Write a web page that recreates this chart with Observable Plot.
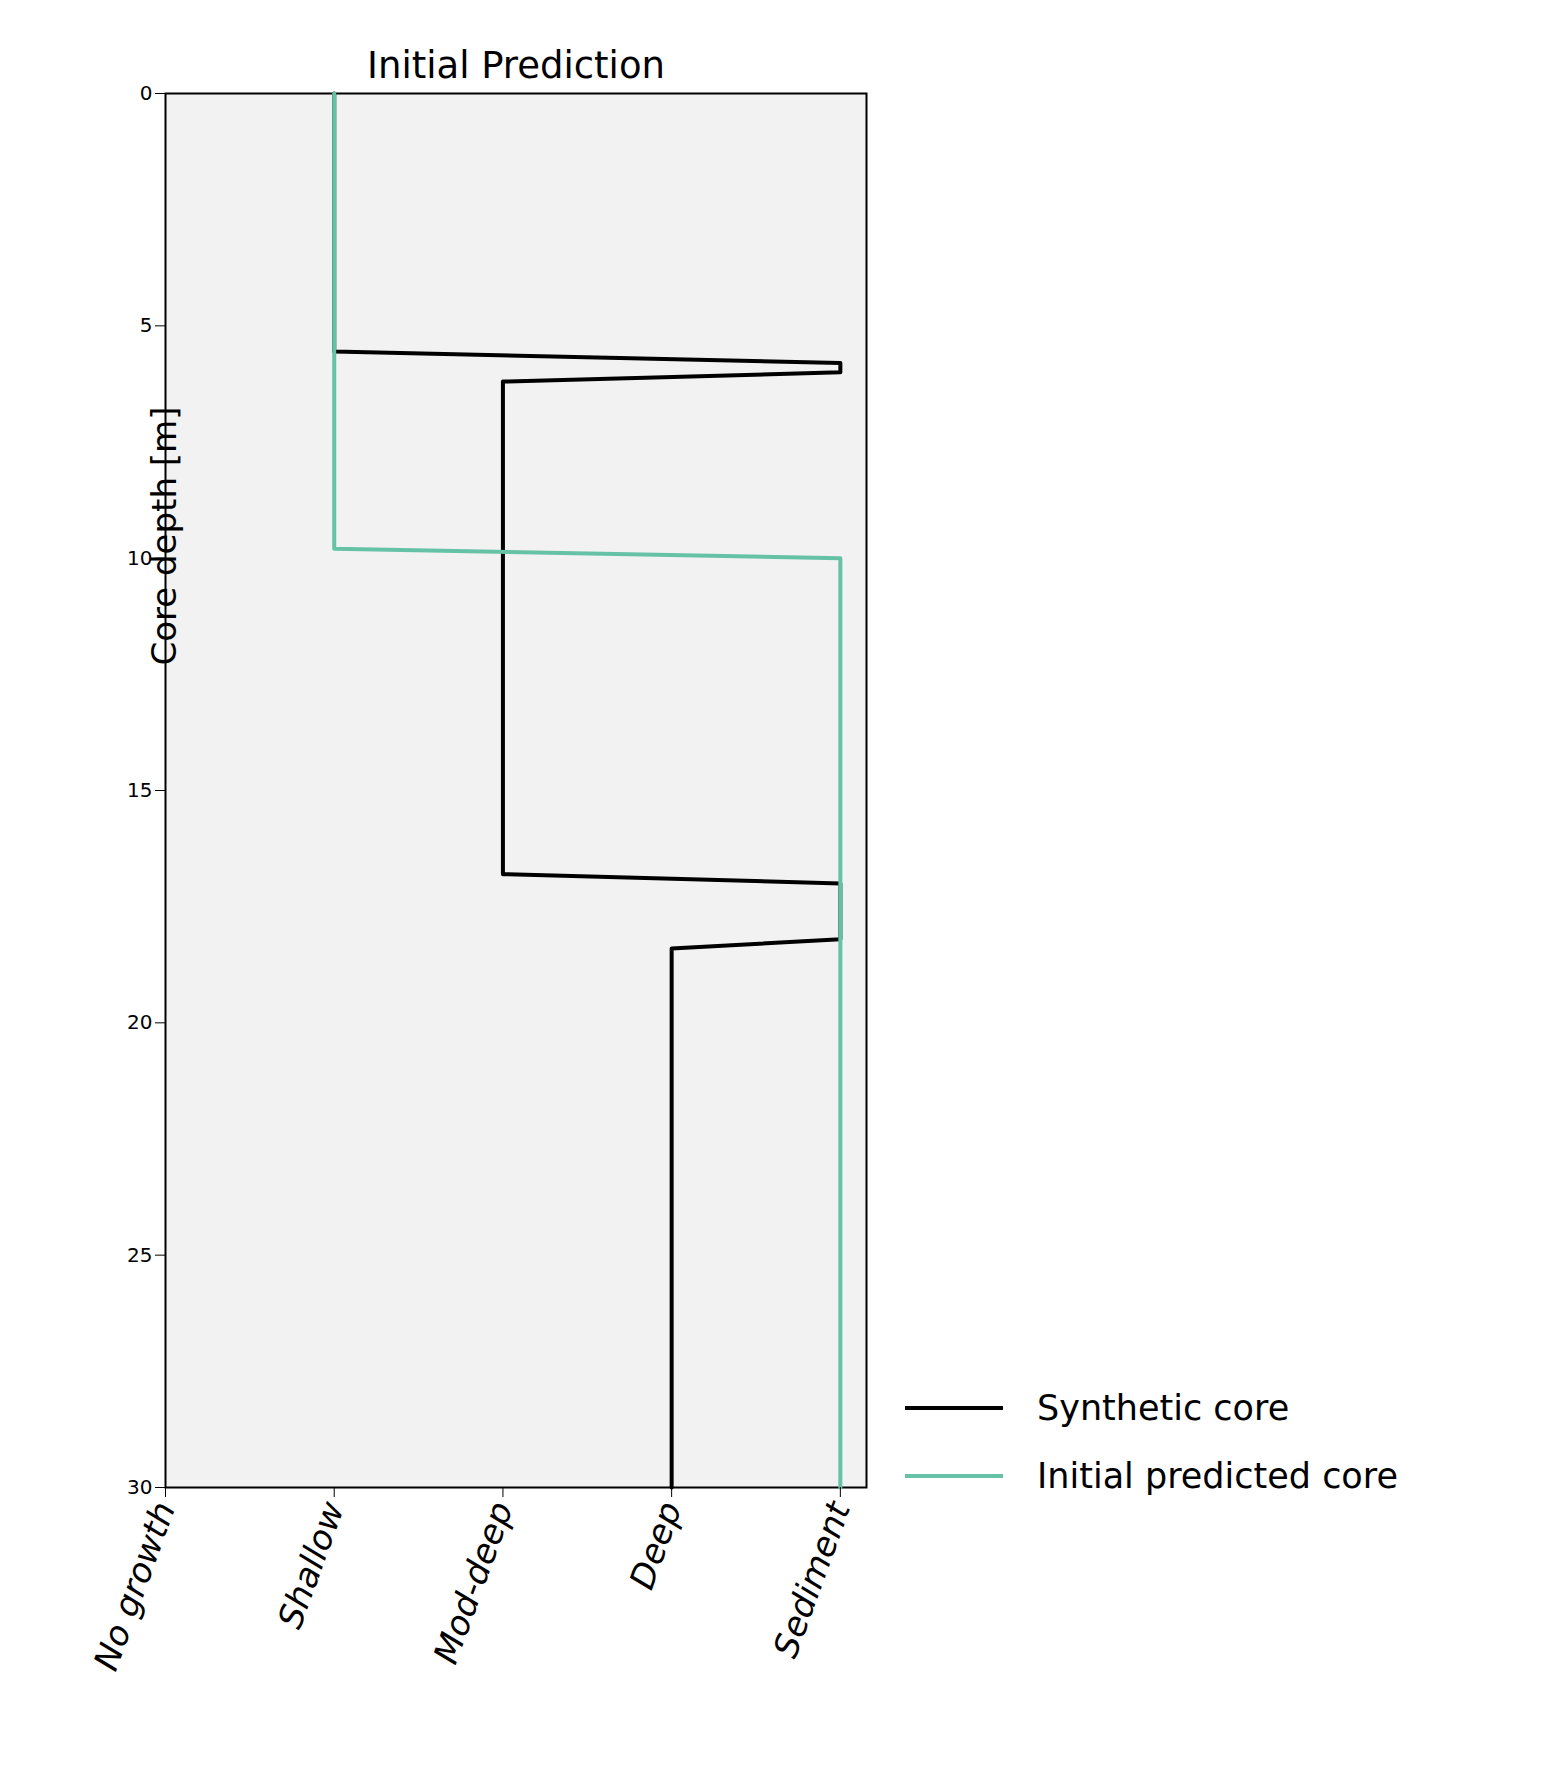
<!DOCTYPE html>
<html><head><meta charset="utf-8">
<script src="https://cdn.jsdelivr.net/npm/d3@7"></script>
<script src="https://cdn.jsdelivr.net/npm/@observablehq/plot@0.6"></script>
<style>
body{margin:0;background:#fff;font-family:"DejaVu Sans",sans-serif}
#wrap{position:relative;width:1553px;height:1776px}
.leg{position:absolute;left:905px;font-size:35px;display:flex;align-items:center}
.leg span{display:inline-block;width:98px;height:4px;margin-right:34px}
</style></head><body>
<div id="wrap"></div>
<script>
const categories = ["No growth", "Shallow", "Mod-deep", "Deep", "Sediment"]
// synthetic core: facies index vs depth
const synthFacies = [1, 1, 4, 4, 2, 2, 4, 4, 3, 3]
const synthDepth = [0, 5.55, 5.8, 6.0, 6.2, 16.8, 17.0, 18.2, 18.4, 30]
// initial predicted core
const predFacies = [1, 1, 4, 4]
const predDepth = [0, 9.8, 10.0, 30]

const synth = synthDepth.map((d, i) => ({depth: d, facies: synthFacies[i]}))
const pred = predDepth.map((d, i) => ({depth: d, facies: predFacies[i]}))

const chart = Plot.plot({
  width: 1553, height: 1776,
  marginLeft: 165, marginRight: 687, marginTop: 93, marginBottom: 289,
  style: {fontFamily: "DejaVu Sans", fontSize: "19px", color: "black", background: "white"},
  x: {domain: [0, 4.155], label: null},
  y: {domain: [0, 30], reverse: true, label: null},
  marks: [
    Plot.frame({fill: "#f2f2f2", stroke: "black", strokeWidth: 2}),
    Plot.line(synth, {x: "facies", y: "depth", stroke: "black", strokeWidth: 4}),
    Plot.line(pred, {x: "facies", y: "depth", stroke: "#66c2a5", strokeWidth: 4}),
    Plot.axisX({ticks: [0, 1, 2, 3, 4], tickFormat: d => categories[d], tickRotate: -70, tickSize: 10, fontSize: 34, fontStyle: "italic", tickPadding: 6, label: null}),
    Plot.axisY({ticks: [0, 5, 10, 15, 20, 25, 30], tickSize: 10, fontSize: 20, label: null}),
    Plot.text(["Core depth [m]"], {frameAnchor: "left", dy: -125, rotate: -90, fontSize: 34}),
    Plot.text(["Initial Prediction"], {frameAnchor: "top", dy: -42, fontSize: 37})
  ]
})
const wrap = document.getElementById("wrap")
wrap.append(chart)
const legend = [["Synthetic core", "black", 1410], ["Initial predicted core", "#66c2a5", 1478]]
for (const [name, color, y] of legend) {
  const d = document.createElement("div")
  d.className = "leg"
  d.style.top = (y - 22) + "px"
  d.innerHTML = `<span style="background:${color}"></span>${name}`
  wrap.append(d)
}
</script></body></html>
